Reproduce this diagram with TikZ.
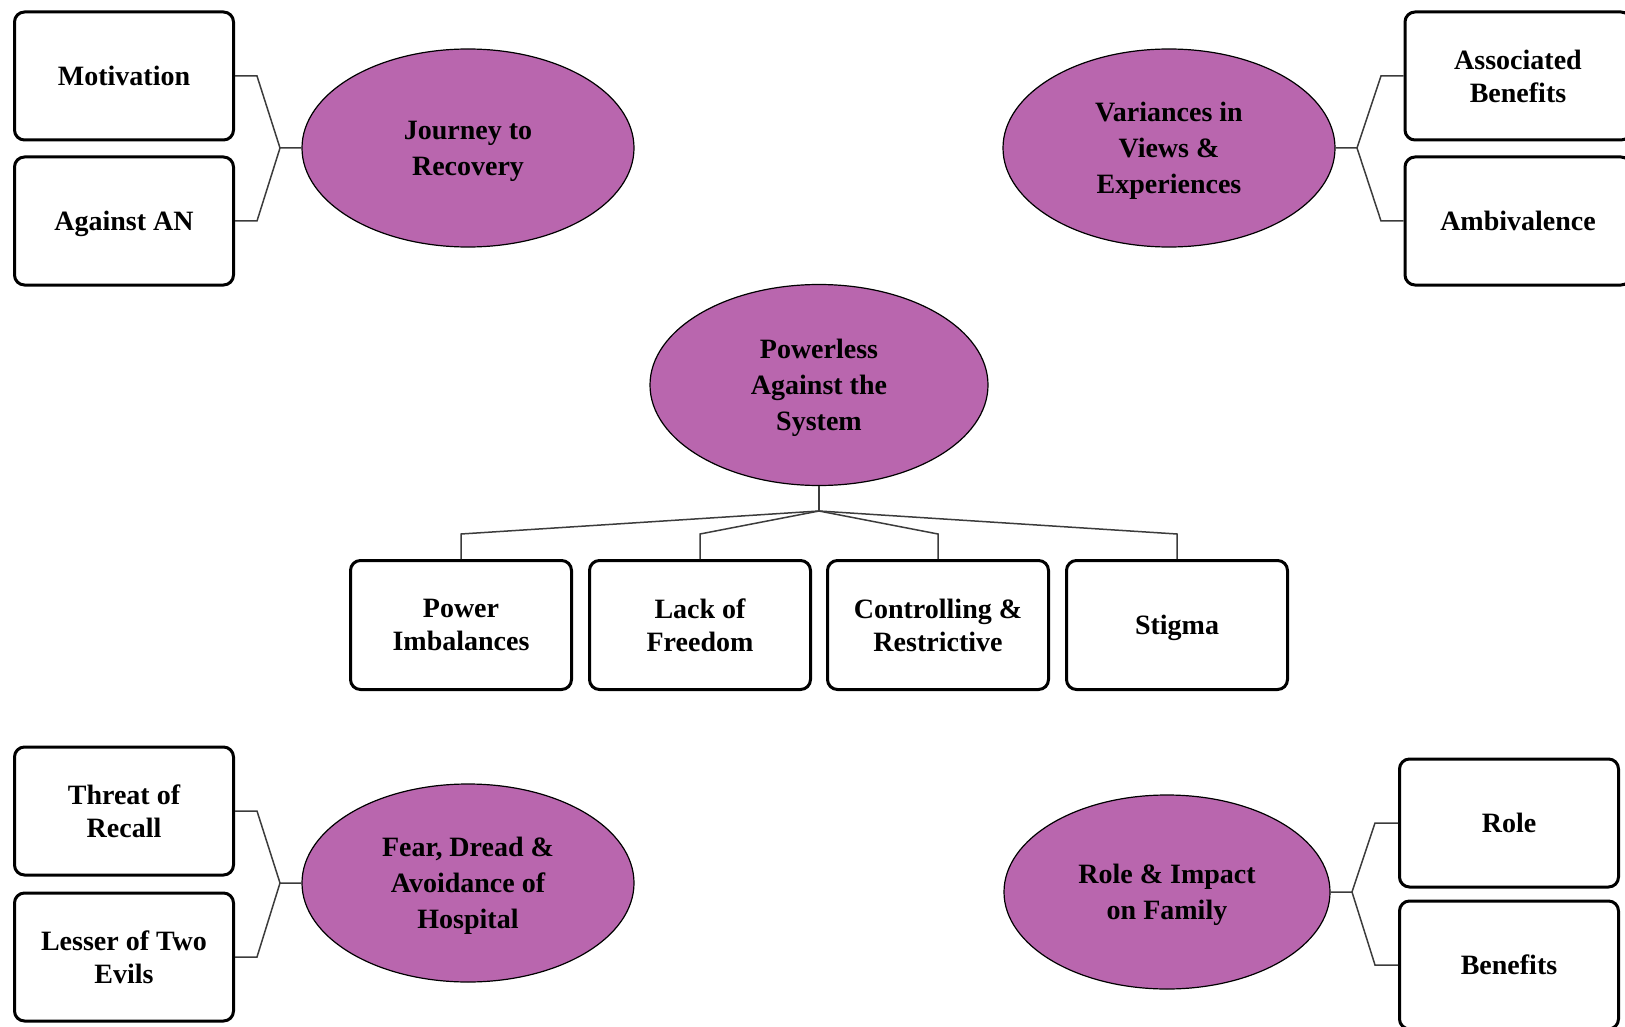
\documentclass[tikz,border=0pt]{standalone}
\usepackage{fontspec}
\setmainfont{Liberation Serif}
\usetikzlibrary{shapes.geometric}
\definecolor{themefill}{RGB}{185,102,174}
\definecolor{linkgray}{RGB}{60,60,60}
\newcommand\themefont{\bfseries\fontsize{28}{36}\selectfont}
\newcommand\subfont{\bfseries\fontsize{28}{33}\selectfont}
\begin{document}
\begin{tikzpicture}[x=1pt,y=-1pt,
  theme/.style={ellipse, draw=black, line width=1.2pt, fill=themefill,
    inner sep=0pt, align=center, text depth=0pt, font=\themefont},
  sub/.style={rectangle, rounded corners=10pt, draw=black, line width=3pt,
    fill=white, minimum width=219pt, minimum height=128pt, inner sep=0pt,
    align=center, text depth=0pt, font=\subfont},
  link/.style={draw=linkgray, line width=1.5pt}
]
\useasboundingbox (0,0) rectangle (1625,1027);
\fill[white] (0,0) rectangle (1625,1027);

% Journey to Recovery
\node[theme, minimum width=332pt, minimum height=198pt] (journey) at (468,148) {Journey to\\Recovery};
\node[sub] (motiv) at (124,76) {Motivation};
\node[sub] (against) at (124,221) {Against AN};
\coordinate (jk) at (280,148);
\draw[link] (motiv.east) -- ++(22,0) -- (jk) -- (journey.west);
\draw[link] (against.east) -- ++(22,0) -- (jk);

% Variances in Views & Experiences
\node[theme, minimum width=332pt, minimum height=198pt] (var) at (1169,148) {Variances in\\Views \&\\Experiences};
\node[sub, minimum width=226pt] (assoc) at (1518,76) {Associated\\Benefits};
\node[sub, minimum width=226pt] (ambiv) at (1518,221) {Ambivalence};
\coordinate (vk) at (1357,148);
\draw[link] (var.east) -- (vk) -- (1381,76) -- (assoc.west);
\draw[link] (vk) -- (1381,221) -- (ambiv.west);

% Powerless Against the System
\node[theme, minimum width=338pt, minimum height=201pt] (power) at (819,385) {Powerless\\Against the\\System};
\node[sub, minimum width=221pt, minimum height=129pt] (imbal) at (461,625) {Power\\Imbalances};
\node[sub, minimum width=221pt, minimum height=129pt] (freedom) at (700,625) {Lack of\\Freedom};
\node[sub, minimum width=221pt, minimum height=129pt] (control) at (938,625) {Controlling \&\\Restrictive};
\node[sub, minimum width=221pt, minimum height=129pt] (stigma) at (1177,625) {Stigma};
\coordinate (pj) at (819,511);
\draw[link] (power.south) -- (pj);
\foreach \b in {imbal,freedom,control,stigma}
  \draw[link] (pj) -- (\b.north |- 0,534) -- (\b.north);

% Fear, Dread & Avoidance of Hospital
\node[theme, minimum width=332pt, minimum height=198pt] (fear) at (468,883) {Fear, Dread \&\\Avoidance of\\Hospital};
\node[sub] (threat) at (124,811) {Threat of\\Recall};
\node[sub] (lesser) at (124,957) {Lesser of Two\\Evils};
\coordinate (fk) at (280,883);
\draw[link] (threat.east) -- ++(22,0) -- (fk) -- (fear.west);
\draw[link] (lesser.east) -- ++(22,0) -- (fk);

% Role & Impact on Family
\node[theme, minimum width=326pt, minimum height=194pt] (family) at (1167,892) {Role \& Impact\\on Family};
\node[sub] (role) at (1509,823) {Role};
\node[sub] (benef) at (1509,965) {Benefits};
\coordinate (rk) at (1352,892);
\draw[link] (family.east) -- (rk) -- (1375,823) -- (role.west);
\draw[link] (rk) -- (1375,965) -- (benef.west);
\end{tikzpicture}
\end{document}
